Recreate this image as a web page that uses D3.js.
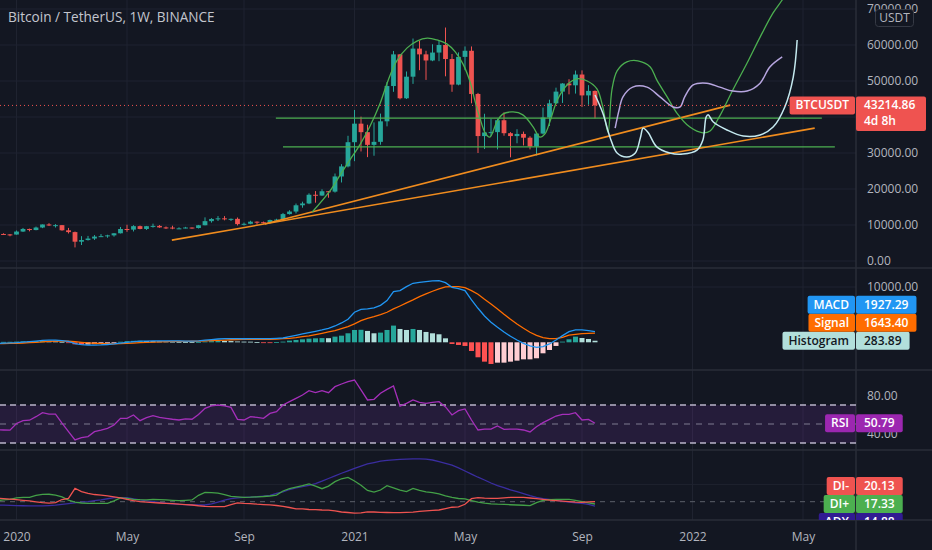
<!DOCTYPE html>
<html>
<head>
<meta charset="utf-8">
<script src="https://cdn.jsdelivr.net/npm/d3@7"></script>
<style>
  html, body { margin: 0; padding: 0; background: #131722; }
  svg { display: block; font-family: "Trebuchet MS", "Open Sans", sans-serif; }
</style>
</head>
<body>
<script>
// weekly bars, bar 0 = week of 2019-12-16
const opens = [7080,7510,7390,7350,8180,8900,8600,9300,10150,9900,9960,8530,8030,5360,5820,6240,6780,6900,7120,7700,
  8890,8720,9680,8900,9670,9750,9330,9290,9010,9070,9300,9160,9930,11070,11680,11850,11650,11710,10250,10330,
  10920,10780,10670,11380,11500,13030,13740,15480,15980,18400,18180,19370,19270,23480,26280,33000,38150,35790,32260,33100,
  38800,48600,57400,45200,51200,59000,57400,55700,57900,60000,56100,49000,56700,58400,46400,34700,35700,35800,39100,35500,
  34700,35300,34250,31800,35400,39850,43800,47050,49300,48800,51800,46000,47250];
const highs = [7520,7695,7500,8470,9190,8990,9560,10160,10500,10250,9990,9190,8180,6900,6970,7200,7470,7290,7740,9460,
  10070,9940,9840,9740,10380,9990,9590,9800,9360,9480,9310,10020,12120,11900,12480,12470,11800,12090,10670,11180,
  10990,10950,11500,11730,13350,14100,15960,16480,18800,19420,19920,19420,24300,26900,34780,41950,40100,37850,38500,40950,
  49700,58350,57500,52640,61800,61200,58400,60200,61200,64850,57500,57950,59600,59600,46700,40900,39500,39500,41300,35800,
  36600,35950,34650,35400,42600,44800,48150,49400,50500,52900,52950,48850,47350];
const lows = [6435,7260,6870,7320,8060,8240,8530,9120,9730,9300,8400,7650,3780,4440,5670,5850,6770,6460,6760,7650,
  8110,8200,8810,8630,9260,9220,8900,8820,8890,9060,8970,9030,9900,10660,11120,11300,11100,9880,9850,10210,
  10140,10370,10530,11200,11420,12900,13200,14800,15790,16200,18100,17580,19000,21810,26000,27730,30420,28850,29240,32300,
  37400,47000,44900,45000,49200,53000,50300,55500,55500,51300,47000,48800,53000,43800,30000,31100,34700,31000,34800,28800,
  32700,32100,31000,29300,35200,37500,43700,43900,46300,46500,42800,43400,39600];
const closes = [7510,7390,7350,8180,8900,8600,9300,10150,9900,9960,8530,8030,5360,5820,6240,6780,6900,7120,7700,8890,
  8720,9680,8900,9670,9750,9330,9290,9010,9070,9300,9160,9930,11070,11680,11850,11650,11710,10250,10330,10920,
  10780,10670,11380,11500,13030,13740,15480,15980,18400,18180,19370,19270,23480,26280,33000,38150,35790,32260,33100,38800,
  48600,57400,45200,51200,59000,57400,55700,57900,60000,56100,49000,56700,58400,46400,34700,35700,35800,39100,35500,34700,
  35300,34250,31800,35400,39850,43800,47050,49300,48800,51800,46000,47250,43214.86];

const macdLine = [-200,-150,-120,-60,40,120,220,330,380,380,300,150,-250,-420,-500,-500,-480,-400,-300,-150,
  0,120,200,230,250,260,260,250,240,230,230,260,380,500,600,660,680,650,640,
  660,660,660,660,720,780,1025,1270,1510,1750,1990,2230,2530,2950,3500,4160,5430,5970,6030,6210,6690,7540,9170,9350,
  10070,10670,10850,10970,11100,11160,10790,9950,9710,9350,7660,6150,4760,3620,2710,1870,1085,420,-180,-660,-900,-780,
  -300,420,1200,1930,2230,2230,2110,1927.29];
const signalLine = [-250,-230,-210,-180,-130,-70,0,80,150,200,220,210,110,0,-100,-170,-230,-260,-270,-250,
  -200,-140,-70,-10,40,90,120,150,170,180,190,200,240,290,350,410,460,500,520,
  540,540,540,540,600,660,720,840,1025,1150,1390,1630,1870,2110,2470,2830,3320,3920,4340,4640,5000,5430,6030,6570,
  7120,7660,8260,8740,9230,9650,10010,10070,10070,9890,9350,8680,7780,6930,6030,5070,4160,3320,2530,1810,1270,840,
  660,660,900,1300,1450,1560,1620,1643.40];
const histogram = [50,80,90,120,170,190,220,250,230,180,80,-60,-360,-420,-400,-330,-250,-140,-30,100,
  200,260,270,240,210,170,140,100,70,50,40,60,140,210,250,250,220,150,120,
  110,40,-20,-40,40,120,300,420,540,660,720,760,740,1025,1200,1630,2230,2260,2050,1630,
  1750,2230,3020,2410,2230,2410,2230,1870,1630,1450,720,-300,-480,-660,-1570,-2710,-3500,-3920,-3680,-3680,
  -3500,-3320,-3080,-3080,-2890,-1990,-1390,-660,120,540,1025,780,600,283.89];

const rsiValues = [44,43.7,43.5,50.5,53.5,54,57.7,61.9,60.5,60.5,51,42,33.2,35.6,36.7,41.9,43.5,45.4,48.9,56,
  56,59.5,53.5,56.7,58.8,57,56,55,54.2,55.3,55,60,66.5,69,70,69,67.5,54.9,54.2,57.7,
  57,56,61.2,63,70,73.5,77,80.5,85,83,85,83,89.3,92.1,94.6,96.3,86,75.3,76,82.3,
  86.5,90,68.9,71.8,75.3,72.8,71.8,72.8,73.5,68,59.5,64,65.8,54.2,43.7,44.7,44.7,47.9,44.4,44.7,
  44.7,43.7,41.6,47.2,51.4,54.9,58.4,60.2,60.2,61.9,54.2,54.9,50.79];

const diMinus = [24.1,23.5,22.9,22.3,21.6,20.9,19.9,19,18.3,18.9,22.5,23.9,35.5,31.6,29.5,28.3,27.5,26.8,25.6,24.5,
  22.8,21.3,20,19.4,18.9,18.5,18.1,17.7,17.3,16.7,16.2,15.3,14.7,14.3,14.3,14.3,16.5,18.7,18.1,17.8,
  17.1,16.7,16.4,15.6,14.6,13.3,11.8,11.6,11,10.8,10.4,10.3,9.3,8.1,7.5,6.8,7.1,8.3,8.1,7.7,
  7.5,7.4,7.4,7.7,7.9,8.7,9.5,9.9,10.4,12,13.6,14,17,23.5,24.8,24.1,23.9,23.9,24.4,25,
  25,25,24.3,23.5,22.6,21.8,21.2,20.6,20.1,19.5,19.3,19.8,20.13];
const diPlus = [21.4,22,22.7,24.5,25,25,27.2,28.4,28.6,27.6,25.6,21.8,19.5,18.5,18.1,18.1,18.1,18.1,21,24.5,
  23.8,22.8,22.3,22.2,22.7,22.4,22,21.6,21.2,21.6,22,27.4,30.8,30.4,30,28.3,26.2,25.6,25,25.2,
  25.6,26,26.6,27.7,32.4,35.2,36.8,38.5,40.5,38,35,38,43.2,46.5,48,44,39,33,31,33.5,
  38.5,36,33.5,31.6,35.4,33,31.3,30.6,29,26.7,25,23.7,23.2,21.3,19.5,18.3,17.6,17.1,16.8,16.5,
  16.2,15.9,15.5,19,21.5,22.3,22.7,22.7,22.7,21.5,20,18.6,17.33];
const adxValues = [16.2,16,15.7,15.5,15.3,15.2,15.1,15.1,15.5,16,16.8,17.7,18.6,19.5,20.2,21.2,22.1,23.4,24.7,24.7,
  24.6,23.3,22,21,20,19.1,18.2,17.6,17,16.6,16.2,16.2,16.2,17.4,19.6,21.9,23.6,24.4,25,25.4,
  25.7,26.5,27.4,29.5,31.4,34.1,36.1,37.3,39,40.9,43.7,46.8,49.9,52.9,55.7,58.4,61.2,63.8,65.3,66.9,
  67.8,68.4,69,69.3,69.6,69.5,69.2,68.2,66.4,64.4,62.2,59,55.5,51.9,48.3,45.1,41.6,38.7,36.2,33.6,
  31.6,29.3,27,25,23.5,22.7,21.6,20.3,19.6,18.8,18.1,16.9,14.88];

const tickWeeks = [3, 20, 38, 55, 72, 90, 107, 124];
const tickLabels = ["2020", "May", "Sep", "2021", "May", "Sep", "2022", "May"];
const priceTicks = [0, 10000, 20000, 30000, 40000, 50000, 60000, 70000];

// user drawings, points are [week, price]
const greenWave = [[48.5,13600],[51.2,19400],[52.8,23900],[54.3,28100],[55.8,32200],[57.4,37500],[58.9,43600],
  [60.2,50300],[61.5,55600],[63.1,59200],[64.6,61100],[66.2,61900],[67.7,61400],[69.2,60300],[70.5,58100],
  [71.7,54700],[72.8,49700],[73.5,44700],[74.3,39700],[75.1,35600],[75.8,34400],[76.9,38600],[77.8,40800],
  [79.4,41400],[80.9,40600],[82.5,37200],[83.5,34400],[84.3,35300],[85.1,38900],[86.2,44700],[87.7,48900],
  [89.2,50600],[90.8,50000],[92.3,47800],[93.2,42800],[94.0,35800],[94.6,47500],[95.4,52800],[96.9,55300],
  [98.6,55600],[100.5,53900],[101.5,50300],[103.1,45600],[104.6,41100],[106.6,37200],[108.6,35600],
  [109.7,36100],[111.2,40300],[113.2,47500],[115.4,55000],[117.4,62200],[119.4,68900],[120.8,72500],[122.0,75800]];
const lilacPath = [[95.1,36900],[95.7,41900],[96.3,45600],[97.8,48300],[100.0,48300],[102.0,45600],[104.0,42800],
  [105.1,42800],[105.8,45600],[107.1,48900],[109.2,49400],[111.2,48300],[113.2,47200],[115.4,47200],
  [117.4,49400],[118.9,53900],[120.8,56700]];
const palePath = [[92.0,46100],[93.2,41100],[94.3,34400],[95.4,30000],[96.9,28900],[98.2,30000],[99.0,34400],
  [99.4,36900],[100.2,35600],[101.5,31700],[103.5,30000],[105.5,29700],[107.7,30800],[108.6,33600],
  [109.1,40000],[109.4,40600],[110.2,38600],[112.3,36400],[114.8,34700],[117.4,35000],[119.4,37200],
  [121.2,42800],[122.5,51100],[123.1,61400]];
const levelPrices = [39700, 31700];
const levelFrom = [42.9, 44.0];
const levelTo = [126.9, 128.9];
const trendFrom = [[26.9, 5800], [41.2, 10300]];
const trendTo = [[125.8, 36900], [112.8, 43300]];

const W = 932, H = 550;
const plotRight = 856;
const paneTop = { price: 0, macd: 268, rsi: 370, dmi: 450, time: 520 };
const textColor = "#b2b5be";
const gridColor = "#1f2330";
const lineColor = "#2a2e39";
const upColor = "#26a69a", downColor = "#ef5350";

const x = d3.scaleLinear().domain([0, 132]).range([-3, 855]);
const yPrice = d3.scaleLinear().domain([0, 70000]).range([261, 9]);
const yMacd = d3.scaleLinear().domain([0, 10000]).range([342.3, 287]);
const yRsi = d3.scaleLinear().domain([30, 70]).range([443, 405]);
const yDmi = d3.scaleLinear().domain([0, 20]).range([519, 501.7]);

const svg = d3.select("body").append("svg").attr("width", W).attr("height", H);
svg.append("rect").attr("width", W).attr("height", H).attr("fill", "#131722");

const defs = svg.append("defs");
function clip(id, y0, y1, w) {
  defs.append("clipPath").attr("id", id).append("rect")
    .attr("x", 0).attr("y", y0).attr("width", w).attr("height", y1 - y0);
  return `url(#${id})`;
}
const clipPrice = clip("c-price", paneTop.price, paneTop.macd, plotRight);
const clipMacd = clip("c-macd", paneTop.macd, paneTop.rsi, plotRight);
const clipRsi = clip("c-rsi", paneTop.rsi, paneTop.dmi, plotRight);
const clipDmi = clip("c-dmi", paneTop.dmi, paneTop.time, plotRight);
const clipDmiTags = clip("c-dmi-tags", paneTop.dmi, paneTop.time, W);

// grid
const grid = svg.append("g");
grid.selectAll("line.v").data(tickWeeks).enter().append("line")
  .attr("x1", d => x(d)).attr("x2", d => x(d))
  .attr("y1", 0).attr("y2", paneTop.time)
  .attr("stroke", gridColor);
grid.selectAll("line.hp").data(priceTicks).enter().append("line")
  .attr("x1", 0).attr("x2", plotRight)
  .attr("y1", d => yPrice(d)).attr("y2", d => yPrice(d))
  .attr("stroke", gridColor);
grid.append("line").attr("x1", 0).attr("x2", plotRight)
  .attr("y1", yMacd(10000)).attr("y2", yMacd(10000)).attr("stroke", gridColor);
grid.append("line").attr("x1", 0).attr("x2", plotRight)
  .attr("y1", yDmi(40)).attr("y2", yDmi(40)).attr("stroke", gridColor);

// pane separators and axis border
[paneTop.macd, paneTop.rsi, paneTop.dmi, paneTop.time].forEach(y => {
  svg.append("line").attr("x1", 0).attr("x2", W).attr("y1", y).attr("y2", y)
    .attr("stroke", lineColor).attr("stroke-width", 1.5);
});
svg.append("line").attr("x1", plotRight).attr("x2", plotRight).attr("y1", 0).attr("y2", H)
  .attr("stroke", lineColor).attr("stroke-width", 1.5);

// candles
const bars = d3.range(closes.length);
const gCandles = svg.append("g").attr("clip-path", clipPrice);
gCandles.selectAll("line").data(bars).enter().append("line")
  .attr("x1", i => x(i)).attr("x2", i => x(i))
  .attr("y1", i => yPrice(highs[i])).attr("y2", i => yPrice(lows[i]))
  .attr("stroke", i => closes[i] >= opens[i] ? upColor : downColor);
gCandles.selectAll("rect").data(bars).enter().append("rect")
  .attr("x", i => x(i) - 2.4).attr("width", 4.8)
  .attr("y", i => yPrice(Math.max(opens[i], closes[i])))
  .attr("height", i => Math.max(1, Math.abs(yPrice(opens[i]) - yPrice(closes[i]))))
  .attr("fill", i => closes[i] >= opens[i] ? upColor : downColor);

// drawings
const gDraw = svg.append("g").attr("clip-path", clipPrice).attr("fill", "none");
const smooth = d3.line().x(d => x(d[0])).y(d => yPrice(d[1])).curve(d3.curveCatmullRom.alpha(0.5));
gDraw.selectAll("line.level").data(levelPrices).enter().append("line")
  .attr("x1", (d, i) => x(levelFrom[i])).attr("x2", (d, i) => x(levelTo[i]))
  .attr("y1", d => yPrice(d)).attr("y2", d => yPrice(d))
  .attr("stroke", "#4caf50").attr("stroke-width", 1.2);
gDraw.selectAll("line.trend").data(trendFrom).enter().append("line")
  .attr("x1", d => x(d[0])).attr("y1", d => yPrice(d[1]))
  .attr("x2", (d, i) => x(trendTo[i][0])).attr("y2", (d, i) => yPrice(trendTo[i][1]))
  .attr("stroke", "#f08c1e").attr("stroke-width", 1.6);
gDraw.append("path").attr("d", smooth(greenWave)).attr("stroke", "#4caf50").attr("stroke-width", 1.3);
gDraw.append("path").attr("d", smooth(lilacPath)).attr("stroke", "#b7a6e0").attr("stroke-width", 1.5);
gDraw.append("path").attr("d", smooth(palePath)).attr("stroke", "#c4e9ef").attr("stroke-width", 1.5);

// last price line
const lastClose = closes[closes.length - 1];
svg.append("line").attr("x1", 0).attr("x2", plotRight)
  .attr("y1", yPrice(lastClose)).attr("y2", yPrice(lastClose))
  .attr("stroke", downColor).attr("stroke-dasharray", "1,3");

// MACD pane
const gMacd = svg.append("g").attr("clip-path", clipMacd);
gMacd.selectAll("rect").data(bars).enter().append("rect")
  .attr("x", i => x(i) - 2.5).attr("width", 5)
  .attr("y", i => Math.min(yMacd(0), yMacd(histogram[i])))
  .attr("height", i => Math.max(0.8, Math.abs(yMacd(histogram[i]) - yMacd(0))))
  .attr("fill", i => {
    const v = histogram[i], prev = i > 0 ? histogram[i - 1] : 0;
    if (v >= 0) return v > prev ? "#26a69a" : "#b2dfdb";
    return v < prev ? "#ff5252" : "#ffcdd2";
  });
const lineMacd = values => d3.line().x((d, i) => x(i)).y(d => yMacd(d))(values);
gMacd.append("path").attr("d", lineMacd(signalLine)).attr("fill", "none").attr("stroke", "#ff6d00").attr("stroke-width", 1.3);
gMacd.append("path").attr("d", lineMacd(macdLine)).attr("fill", "none").attr("stroke", "#2196f3").attr("stroke-width", 1.3);

// RSI pane
const gRsi = svg.append("g").attr("clip-path", clipRsi);
gRsi.append("rect").attr("x", 0).attr("width", plotRight)
  .attr("y", yRsi(70)).attr("height", yRsi(30) - yRsi(70))
  .attr("fill", "#8a3ab9").attr("fill-opacity", 0.16);
[70, 30].forEach(v => {
  gRsi.append("line").attr("x1", 0).attr("x2", plotRight).attr("y1", yRsi(v)).attr("y2", yRsi(v))
    .attr("stroke", "#b9b4c9").attr("stroke-width", 1.4).attr("stroke-dasharray", "6,4");
});
gRsi.append("line").attr("x1", 0).attr("x2", plotRight).attr("y1", yRsi(50)).attr("y2", yRsi(50))
  .attr("stroke", "#7f7a90").attr("stroke-dasharray", "6,6");
gRsi.append("path").attr("d", d3.line().x((d, i) => x(i)).y(d => yRsi(d))(rsiValues))
  .attr("fill", "none").attr("stroke", "#a52fba").attr("stroke-width", 1.3);

// DMI pane
const gDmi = svg.append("g").attr("clip-path", clipDmi);
gDmi.append("line").attr("x1", 0).attr("x2", plotRight).attr("y1", yDmi(20)).attr("y2", yDmi(20))
  .attr("stroke", "#5d606b").attr("stroke-dasharray", "5,5");
const lineDmi = values => d3.line().x((d, i) => x(i)).y(d => yDmi(d))(values);
gDmi.append("path").attr("d", lineDmi(adxValues)).attr("fill", "none").attr("stroke", "#3a2da0").attr("stroke-width", 1.3);
gDmi.append("path").attr("d", lineDmi(diPlus)).attr("fill", "none").attr("stroke", "#43a047").attr("stroke-width", 1.3);
gDmi.append("path").attr("d", lineDmi(diMinus)).attr("fill", "none").attr("stroke", "#ef5350").attr("stroke-width", 1.3);

// axes
function styleAxis(g) {
  g.select(".domain").remove();
  g.attr("font-family", null).attr("font-size", 12);
  g.selectAll("text").attr("fill", textColor);
}
const fmt = d3.format(".2f");
const lastClose0 = closes[closes.length - 1];
// the last-price tag covers the axis label that falls under it
const visiblePriceTicks = priceTicks.filter(v => Math.abs(yPrice(v) - (yPrice(lastClose0) + 8)) > 20);
svg.append("g").attr("transform", `translate(${plotRight},0)`)
  .call(d3.axisRight(yPrice).tickValues(visiblePriceTicks).tickFormat(fmt).tickSize(0).tickPadding(11)).call(styleAxis);
svg.append("g").attr("transform", `translate(${plotRight},0)`)
  .call(d3.axisRight(yMacd).tickValues([10000]).tickFormat(fmt).tickSize(0).tickPadding(11)).call(styleAxis);
svg.append("g").attr("transform", `translate(${plotRight},0)`)
  .call(d3.axisRight(yRsi).tickValues([80, 40]).tickFormat(fmt).tickSize(0).tickPadding(11)).call(styleAxis);
svg.append("g").attr("transform", `translate(0,${paneTop.time})`)
  .call(d3.axisBottom(x).tickValues(tickWeeks).tickFormat((d, i) => tickLabels[i]).tickSize(0).tickPadding(12))
  .call(styleAxis);

// title and currency box
svg.append("text").attr("x", 8).attr("y", 22).attr("font-size", 13.6).attr("fill", "#c3c6ce")
  .text("Bitcoin / TetherUS, 1W, BINANCE");
svg.append("rect").attr("x", 875.5).attr("y", 9.5).attr("width", 38).attr("height", 17).attr("rx", 3)
  .attr("fill", "#131722").attr("stroke", "#363a45");
svg.append("text").attr("x", 894.5).attr("y", 22).attr("text-anchor", "middle").attr("font-size", 12)
  .attr("fill", textColor).text("USDT");

// tags
function measure(str) {
  const t = svg.append("text").attr("font-size", 12).attr("font-weight", 600).text(str);
  const w = t.node().getComputedTextLength();
  t.remove();
  return w;
}
function nameTag(g, y, label, bg, fg) {
  const w = measure(label) + 12;
  g.append("rect").attr("x", plotRight - 1 - w).attr("y", y - 9).attr("width", w).attr("height", 18)
    .attr("rx", 2).attr("fill", bg);
  g.append("text").attr("x", plotRight - 1 - w / 2).attr("y", y + 4).attr("text-anchor", "middle")
    .attr("font-size", 12).attr("font-weight", 600).attr("fill", fg).text(label);
}
function valueTag(g, y, label, bg, fg) {
  const w = measure(label) + 16;
  g.append("rect").attr("x", plotRight).attr("y", y - 9).attr("width", w).attr("height", 18)
    .attr("rx", 2).attr("fill", bg);
  g.append("text").attr("x", plotRight + 8).attr("y", y + 4)
    .attr("font-size", 12).attr("font-weight", 600).attr("fill", fg).text(label);
}
function stackUp(items) {
  items.sort((a, b) => b.y - a.y);
  items.forEach((d, k) => { if (k > 0) d.y = Math.min(d.y, items[k - 1].y - 18); });
  return items;
}
function spread(items) {
  items.sort((a, b) => a.y - b.y);
  const mid = d3.mean(items, d => d.y);
  items.forEach((d, k) => { d.y = mid + (k - (items.length - 1) / 2) * 18; });
  return items;
}
const last = closes.length - 1;
const gTags = svg.append("g");

// price tag
const yLast = yPrice(lastClose);
nameTag(gTags, yLast, "BTCUSDT", downColor, "#ffffff");
gTags.append("rect").attr("x", plotRight).attr("y", yLast - 9).attr("width", 70).attr("height", 34.5)
  .attr("rx", 2).attr("fill", downColor);
gTags.append("text").attr("x", plotRight + 8).attr("y", yLast + 4).attr("font-size", 12).attr("font-weight", 600)
  .attr("fill", "#ffffff").text(fmt(lastClose));
gTags.append("text").attr("x", plotRight + 8).attr("y", yLast + 20).attr("font-size", 12).attr("font-weight", 600)
  .attr("fill", "#ffffff").text("4d 8h");

stackUp([
  { y: yMacd(macdLine[last]), name: "MACD", v: macdLine[last], bg: "#2196f3", fg: "#ffffff" },
  { y: yMacd(signalLine[last]), name: "Signal", v: signalLine[last], bg: "#ff6d00", fg: "#ffffff" },
  { y: yMacd(histogram[last]), name: "Histogram", v: histogram[last], bg: "#b2dfdb", fg: "#131722" }
]).forEach(d => { nameTag(gTags, d.y, d.name, d.bg, d.fg); valueTag(gTags, d.y, fmt(d.v), d.bg, d.fg); });

nameTag(gTags, yRsi(rsiValues[last]), "RSI", "#9c27b0", "#ffffff");
valueTag(gTags, yRsi(rsiValues[last]), fmt(rsiValues[last]), "#9c27b0", "#ffffff");

const gDmiTags = svg.append("g").attr("clip-path", clipDmiTags);
spread([
  { y: yDmi(diMinus[last]), name: "DI-", v: diMinus[last], bg: "#ef5350" },
  { y: yDmi(diPlus[last]), name: "DI+", v: diPlus[last], bg: "#4caf50" },
  { y: yDmi(adxValues[last]), name: "ADX", v: adxValues[last], bg: "#311b92" }
]).forEach(d => { nameTag(gDmiTags, d.y, d.name, d.bg, "#ffffff"); valueTag(gDmiTags, d.y, fmt(d.v), d.bg, "#ffffff"); });
</script>
</body>
</html>
